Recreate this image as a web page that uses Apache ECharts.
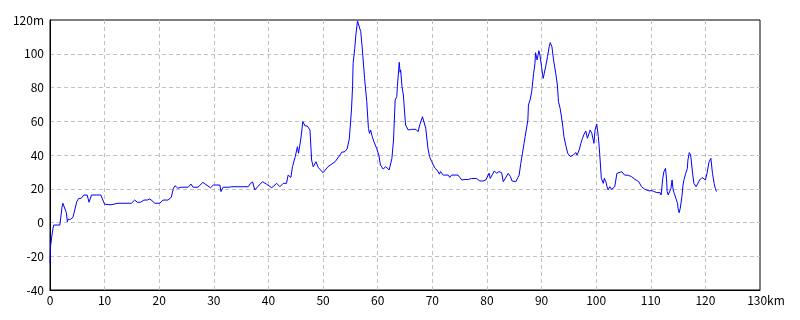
<!DOCTYPE html>
<html>
<head>
<meta charset="utf-8">
<script src="https://cdn.jsdelivr.net/npm/echarts@6/dist/echarts.min.js"></script>
<style>html,body{margin:0;padding:0;background:#fff}#c{width:800px;height:320px}</style>
</head>
<body>
<div id="c"></div>
<script>
// distance along route (km)
var distances = [0.0,0.1,0.37,0.55,0.7,1.8,1.95,2.2,2.35,2.6,3.0,3.17,3.3,3.8,4.2,4.5,4.9,5.25,5.7,6.2,6.8,7.15,7.6,9.3,9.45,10.0,11.15,12.45,14.9,15.5,16.0,16.6,17.2,17.8,18.3,19.2,20.1,20.7,21.6,22.2,22.6,22.9,23.4,24.0,25.3,25.8,26.2,27.1,27.4,28.0,28.4,29.4,29.9,31.1,31.3,31.7,32.8,33.3,36.3,36.7,37.1,37.5,38.1,38.9,39.6,40.6,41.5,42.1,42.7,43.3,43.6,44.1,44.4,44.9,45.3,45.5,45.9,46.3,46.7,47.1,47.6,47.9,48.2,48.7,49.1,49.4,50.0,50.9,52.2,53.1,53.4,54.0,54.4,54.8,55.2,55.4,55.5,55.8,56.0,56.3,56.6,56.9,57.2,57.6,58.0,58.3,58.5,58.7,59.0,59.3,59.8,60.2,60.5,61.0,61.5,61.8,62.1,62.6,62.9,63.2,63.5,63.6,63.95,64.1,64.2,64.45,64.7,64.9,65.1,65.6,65.9,66.2,67.0,67.4,67.7,68.2,68.5,68.8,69.2,69.5,69.9,70.5,70.9,71.3,71.5,72.0,72.9,73.2,73.5,74.7,75.0,75.4,76.0,76.6,77.2,78.1,78.7,79.3,79.8,80.4,80.6,81.35,81.8,82.2,82.7,83.0,83.3,83.9,84.3,84.6,84.9,85.3,85.5,85.9,86.2,86.5,86.8,87.0,87.5,87.6,87.9,88.2,88.55,88.8,88.9,89.2,89.5,89.7,90.0,90.3,90.5,90.75,91.1,91.4,91.6,91.9,92.2,92.6,92.9,93.1,93.4,93.6,93.9,94.1,94.5,94.8,95.3,95.8,96.3,96.5,96.9,97.2,97.5,97.8,98.1,98.4,98.9,99.2,99.6,99.8,100.1,100.4,100.6,100.95,101.3,101.5,101.8,102.0,102.2,102.5,102.85,103.1,103.4,103.8,104.7,105.2,105.9,106.5,107.1,107.4,107.8,108.3,108.9,109.2,109.7,110.1,110.5,111.1,111.7,111.9,112.2,112.4,112.7,112.9,113.0,113.2,113.5,113.7,113.9,114.1,114.3,114.6,114.9,115.0,115.2,115.4,115.7,115.9,116.1,116.4,116.7,116.8,117.05,117.3,117.7,117.9,118.3,118.6,118.95,119.4,119.7,120.0,120.3,120.65,121.0,121.3,121.6,121.8,122.05];
// elevation (m)
var elevations = [-24,-14,-7.4,-3.4,-1.5,-1.5,-0.5,9,11.4,11.4,5.8,0.5,1.9,1.9,3.1,3.1,12.3,14.3,14.3,16.3,16.3,12,16.3,16.3,16.8,10.8,10.5,11.4,11.4,13.3,12,12,13.3,13.3,14,11.4,11.4,13.3,13.3,14.9,20.3,21.8,20.3,20.9,20.9,22.8,20.9,20.9,20.6,23.8,22.8,20.6,22.2,22.2,18.3,20.9,20.9,21.2,21.2,23.2,24,19.3,21.5,24.2,22.8,20.6,23.2,21.2,23.2,23.2,28.1,26.7,33.1,39,44.9,41,48.9,59.8,57.2,57.2,54.8,37,33,36,32.7,33,29.5,33.1,36,40,41.6,42,43.6,49.5,66.7,80.5,94.3,103.2,111.1,119.4,119.4,113.1,102.2,85.4,71.6,55.8,52.8,54.8,50.9,47.9,44,40,34.1,31.7,33.1,33.1,31.1,38,48.9,72.6,74.6,80.5,94.9,89,90.4,80.5,75.6,66.7,57.8,54.8,53.8,55.2,55.2,53.8,57.8,62.7,61.7,55.8,44,39,36,32.1,31,28.6,30.2,28.1,28.1,26.7,28.1,28.1,27.1,25.2,25.5,25.5,26.1,26.1,24.6,24.6,25.2,29.2,26.1,30.5,29.2,30.2,29.5,24.2,23.2,29.1,27.2,24.6,25.2,24.2,24.2,28.1,35,41,46.9,50.9,60.7,69.6,72.6,77.5,88.4,94.3,100.6,96.3,101.8,99.3,92.3,85.4,88.4,92.3,98.3,104.2,106.6,104.2,96.3,88.4,81.5,71.6,67.7,63.7,56.8,50.9,44.9,41,39,40,41.4,40,43,46.9,49.9,52.4,54.2,49.9,54.8,52.9,46.9,54.8,58.4,50.9,43,26.2,23.2,26.2,23.8,21.2,19.3,21.2,19.7,18.7,21.2,29.1,30.1,28.1,28,27.1,25.6,25.6,24.2,21.2,19.7,19.7,18.7,19,18.5,17.7,17.7,16.3,26.2,30.1,32.1,25.2,18.5,16.3,16.3,20.3,25.2,19.3,17.3,14.3,11.4,8.4,5.8,8.4,15.3,22.2,25.6,29.1,32.1,37,41.4,40,28.1,23.2,21.2,22.2,25.2,26.7,25.6,25.2,29.1,35.7,38,29.1,23.2,20.3,18.3];
var xMin = 0, xMax = 130, xStep = 10, xUnit = 'km';
var yMin = -40, yMax = 120, yStep = 20, yUnit = 'm';

var points = distances.map(function (d, i) { return [d, elevations[i]]; });
var font = '"Noto Sans CJK JP", "DejaVu Sans", sans-serif';
var splitStyle = { show: true, showMinLine: false, showMaxLine: false, lineStyle: { color: '#c0c0c0', type: [4, 3], width: 1 } };
var chart = echarts.init(document.getElementById('c'), null, { renderer: 'canvas' });
chart.setOption({
  animation: false,
  backgroundColor: '#fff',
  grid: { left: 50, right: 40, top: 20, bottom: 30, show: true, borderColor: '#000', borderWidth: 1, backgroundColor: 'transparent' },
  xAxis: {
    type: 'value', min: xMin, max: xMax, interval: xStep,
    axisLine: { show: true, onZero: false, lineStyle: { color: '#000', width: 1 } },
    axisTick: { show: false },
    splitLine: splitStyle,
    axisLabel: {
      color: '#000', fontSize: 12, fontFamily: font, margin: 4,
      formatter: function (v) { return v === xMax ? '{p|' + v + '}' + xUnit : String(v); },
      rich: { p: { fontSize: 12, fontFamily: font, color: '#000', padding: [0, 0, 0, 12] } }
    }
  },
  yAxis: {
    type: 'value', min: yMin, max: yMax, interval: yStep,
    axisLine: { show: true, onZero: false, lineStyle: { color: '#000', width: 1 } },
    axisTick: { show: false },
    splitLine: splitStyle,
    axisLabel: {
      color: '#000', fontSize: 12, fontFamily: font, margin: 6,
      formatter: function (v) { return v === yMax ? v + yUnit : String(v); }
    }
  },
  series: [{
    type: 'line', data: points, showSymbol: false, symbol: 'none',
    lineStyle: { color: '#0000ff', width: 1 }, clip: true
  }]
});
</script>
</body>
</html>
